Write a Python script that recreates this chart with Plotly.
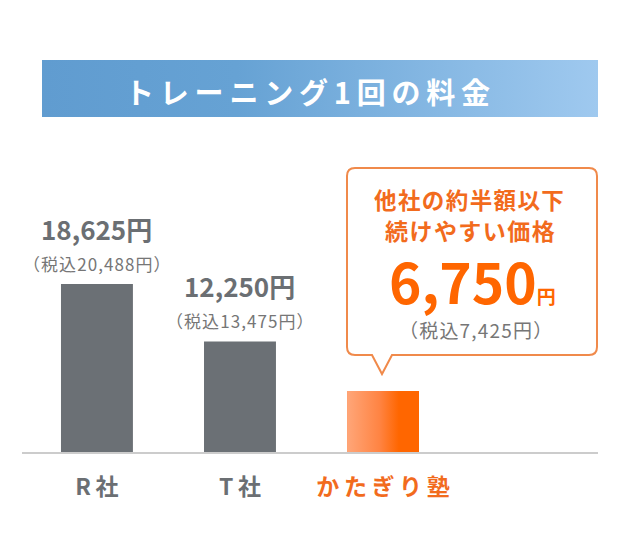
import base64
import plotly.graph_objects as go

# ---- data ----
companies = ["R社", "T社", "かたぎり塾"]
prices = [18625, 12250, 6750]
prices_tax = [20488, 13475, 7425]
title_text = "トレーニング1回の料金"
callout_lines = ["他社の約半額以下", "続けやすい価格"]

# ---- styling / geometry (page pixels; the page body adds an 8px offset) ----
OFF = 8
W, H = 638 - OFF, 560 - OFF
PLOT_L, PLOT_R, PLOT_B = 22, 598, 452          # page px
ML, MR, MT = PLOT_L - OFF, W - (PLOT_R - OFF), 0
MB = H - (PLOT_B - OFF)
PW, PH = W - ML - MR, H - MT - MB
FONT = "Noto Sans CJK JP"
GRAY_BAR = "#6b7075"
GRAY_TXT = "#6b6f73"
GRAY_SUB = "#767676"
ORANGE = "#f26b1d"
ORANGE_BAR = "#ff6600"
ORANGE_LINE = "#f08a4b"

Y_MAX = max(prices) * PH / 168.0
TH = "\u2009"
HS = "\u200a"


def px2x(px):
    return (px - OFF - ML) / PW


def py2y(py):
    return (H - MB - (py - OFF)) / PH


def spaced(s, sp=HS):
    return sp.join(list(s))


bar_colors = [GRAY_BAR, GRAY_BAR, ORANGE_BAR]
xs = list(range(len(companies)))
BW = 0.503

fig = go.Figure()
fig.add_trace(go.Bar(x=xs, y=prices, width=BW, marker=dict(color=bar_colors, line=dict(width=0)),
                     hoverinfo="skip"))

# gradient overlay on highlighted bar (derived from data)
i = 2
x0, x1 = xs[i] - BW / 2, xs[i] + BW / 2
fig.add_trace(go.Scatter(
    x=[x0, x1, x1, x0, x0], y=[0, 0, prices[i], prices[i], 0],
    mode="lines", fill="toself", line=dict(width=0, color="rgba(0,0,0,0)"),
    fillgradient=dict(type="horizontal",
                      colorscale=[[0, "#ffa679"], [0.45, "#ff8443"], [0.72, "#ff6600"], [1, "#ff6600"]]),
    hoverinfo="skip", showlegend=False))

annotations = []
# price labels for competitors
for j in range(2):
    annotations.append(dict(x=xs[j], y=prices[j], xref="x", yref="y", yshift=56,
                            xanchor="center", yanchor="middle",
                            text=f"{prices[j]:,}円", showarrow=False,
                            font=dict(family=FONT, size=26, color=GRAY_TXT, weight=700)))
    annotations.append(dict(x=xs[j], y=prices[j], xref="x", yref="y", yshift=21,
                            xanchor="center", yanchor="middle",
                            text=spaced(f"（税込{prices_tax[j]:,}円）", HS), showarrow=False,
                            font=dict(family=FONT, size=17, color=GRAY_SUB)))

# title banner text
annotations.append(dict(x=px2x(307), y=py2y(91), xref="paper", yref="paper",
                        xanchor="center", yanchor="middle",
                        text=spaced(title_text, TH), showarrow=False,
                        font=dict(family=FONT, size=29, color="white", weight=700)))

# callout texts
annotations.append(dict(x=px2x(469), y=py2y(199), xref="paper", yref="paper",
                        xanchor="center", yanchor="middle",
                        text=spaced(callout_lines[0]), showarrow=False,
                        font=dict(family=FONT, size=22.5, color=ORANGE, weight=700)))
annotations.append(dict(x=px2x(470), y=py2y(230), xref="paper", yref="paper",
                        xanchor="center", yanchor="middle",
                        text=spaced(callout_lines[1]), showarrow=False,
                        font=dict(family=FONT, size=23, color=ORANGE, weight=700)))
annotations.append(dict(x=px2x(472), y=py2y(280), xref="paper", yref="paper",
                        xanchor="center", yanchor="middle",
                        text=f"<span style='font-size:55px'>{prices[2]:,}</span><span style='font-size:19px'>円</span>",
                        showarrow=False,
                        font=dict(family=FONT, size=19, color=ORANGE_BAR, weight=700)))
annotations.append(dict(x=px2x(475), y=py2y(330), xref="paper", yref="paper",
                        xanchor="center", yanchor="middle",
                        text=spaced(f"（税込{prices_tax[2]:,}円）", HS), showarrow=False,
                        font=dict(family=FONT, size=19, color=GRAY_SUB)))

# callout box path (page px -> paper)
bx0, bx1, by0, by1, r = 347, 597, 168, 355, 8
pl, pr_, tipx, tipy = 372, 392, 382, 374


def P(px, py):
    return f"{px2x(px):.5f},{py2y(py):.5f}"


path = (f"M {P(bx0 + r, by0)} L {P(bx1 - r, by0)} Q {P(bx1, by0)} {P(bx1, by0 + r)} "
        f"L {P(bx1, by1 - r)} Q {P(bx1, by1)} {P(bx1 - r, by1)} "
        f"L {P(pr_, by1)} L {P(tipx, tipy)} L {P(pl, by1)} "
        f"L {P(bx0 + r, by1)} Q {P(bx0, by1)} {P(bx0, by1 - r)} "
        f"L {P(bx0, by0 + r)} Q {P(bx0, by0)} {P(bx0 + r, by0)} Z")
shapes = [dict(type="path", path=path, xref="paper", yref="paper",
               line=dict(color=ORANGE_LINE, width=2), fillcolor="white", layer="above")]

# banner gradient image
svg = ("<svg xmlns='http://www.w3.org/2000/svg' width='556' height='57' viewBox='0 0 556 57' preserveAspectRatio='none'>"
       "<defs><linearGradient id='g' x1='0' y1='0' x2='1' y2='0'>"
       "<stop offset='0' stop-color='#609cd0'/><stop offset='0.35' stop-color='#66a2d4'/>"
       "<stop offset='1' stop-color='#9fc9ef'/></linearGradient></defs>"
       "<rect width='556' height='57' fill='url(#g)'/></svg>")
src = "data:image/svg+xml;base64," + base64.b64encode(svg.encode()).decode()
images = [dict(source=src, xref="paper", yref="paper", x=px2x(42), y=py2y(60),
               sizex=(598 - 42) / PW, sizey=(117 - 60) / PH, sizing="stretch",
               xanchor="left", yanchor="top", layer="below")]

tick_colors = [GRAY_TXT, GRAY_TXT, ORANGE]
ticktext = [f"<b><span style='color:{c}'>{spaced(n, TH)}</span></b>" for n, c in zip(companies, tick_colors)]

fig.update_layout(
    width=W, height=H, margin=dict(l=ML, r=MR, t=MT, b=MB),
    paper_bgcolor="white", plot_bgcolor="white", showlegend=False,
    annotations=annotations, shapes=shapes, images=images,
    xaxis=dict(range=[-0.524, 3.503], tickvals=xs, ticktext=ticktext, showgrid=False, zeroline=False,
               showline=True, linecolor="#cccccc", linewidth=2, ticks="",
               tickfont=dict(family=FONT, size=23), ticklabelstandoff=13, fixedrange=True),
    yaxis=dict(range=[0, Y_MAX], visible=False, fixedrange=True),
    font=dict(family=FONT),
)

fig.write_html("out.html")
